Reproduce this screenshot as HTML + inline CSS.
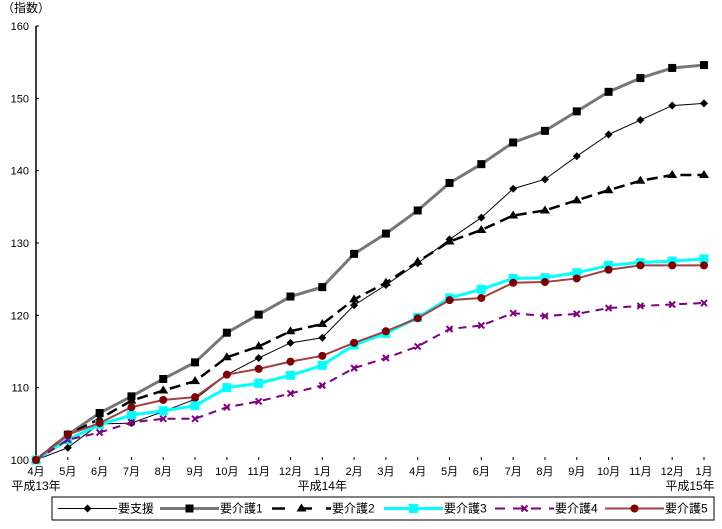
<!DOCTYPE html>
<html><head><meta charset="utf-8"><style>
body{margin:0;background:#fff;}
svg text{font-family:"Liberation Sans","Noto Sans CJK JP",sans-serif;}
</style></head><body>
<svg width="722" height="524" viewBox="0 0 722 524" xmlns="http://www.w3.org/2000/svg">
<g id="axes"></g><g id="series"></g><g id="legend"></g>
</svg>
<script>
const months=["4月","5月","6月","7月","8月","9月","10月","11月","12月","1月","2月","3月","4月","5月","6月","7月","8月","9月","10月","11月","12月","1月"];
const yTicks=[100,110,120,130,140,150,160];
const yearLabels=[["平成13年",0],["平成14年",9],["平成15年",21]];
const s0=[100,101.7,105.0,105.1,106.7,108.4,111.8,114.1,116.2,116.9,121.4,124.2,127.2,130.5,133.5,137.5,138.8,142,145,147,149,149.3];
const s1=[100,103.5,106.5,108.8,111.2,113.5,117.6,120.1,122.6,123.9,128.5,131.3,134.5,138.3,140.9,143.9,145.5,148.2,150.9,152.8,154.2,154.6];
const s2=[100,103.5,105.7,108.2,109.6,110.9,114.2,115.7,117.8,118.8,122.2,124.5,127.4,130.2,131.8,133.8,134.5,135.9,137.3,138.6,139.4,139.4];
const s3=[100,102.8,104.9,106.2,106.8,107.5,110.0,110.6,111.7,113.1,115.9,117.5,119.7,122.4,123.6,125.1,125.2,125.9,126.9,127.3,127.5,127.8];
const s4=[100,102.8,103.8,105.2,105.7,105.7,107.3,108.1,109.2,110.3,112.7,114.1,115.7,118.1,118.6,120.3,119.9,120.2,121.0,121.3,121.5,121.7];
const s5=[100,103.5,105.1,107.3,108.3,108.7,111.8,112.6,113.6,114.4,116.2,117.8,119.6,122.1,122.4,124.5,124.6,125.1,126.3,126.9,126.9,126.9];
const names=["要支援","要介護1","要介護2","要介護3","要介護4","要介護5"];
const NS="http://www.w3.org/2000/svg";
const X0=36,X1=704,Y0=460,Y1=26;
const xs=i=>X0+(X1-X0)*i/(months.length-1);
const ys=v=>Y0-(v-100)/(160-100)*(Y0-Y1);
function mk(tag,at,parent){const e=document.createElementNS(NS,tag);for(const k in at)e.setAttribute(k,at[k]);parent.appendChild(e);return e;}
const ax=document.getElementById('axes');
let e=mk('line',{x1:X0,y1:Y1,x2:X0,y2:Y0,stroke:'#000','stroke-width':1.5},ax);


yTicks.forEach(v=>{
 mk('line',{x1:X0,x2:X0+3,y1:ys(v),y2:ys(v),stroke:'#000'},ax);
 const t=mk('text',{x:29,y:ys(v)+4,'text-anchor':'end','font-size':11},ax);t.textContent=v;
 
 
});
months.forEach((m,i)=>{
 mk('line',{x1:xs(i),x2:xs(i),y1:Y0,y2:Y0-3,stroke:'#000'},ax);
 const t=mk('text',{x:xs(i),y:475,'text-anchor':'middle','font-size':11},ax);t.textContent=m;
 
 
});
yearLabels.forEach(([l,i])=>{
 const t=mk('text',{x:Math.min(xs(i),690),y:490,'text-anchor':'middle','font-size':12},ax);t.textContent=l;
 
 
});
const yt=mk('text',{x:2,y:12,'font-size':12},ax);yt.textContent="（指数）";


const styles=[
 {c:'#000',w:1,d:'',m:'diamond',mc:'#000'},
 {c:'#777',w:3,d:'',m:'square',mc:'#000'},
 {c:'#000',w:2.5,d:'11,6',m:'tri',mc:'#000'},
 {c:'#00ffff',w:3,d:'',m:'bigsquare',mc:'#00ffff'},
 {c:'#800080',w:2,d:'8,6',m:'x',mc:'#800080'},
 {c:'#a04040',w:2,d:'',m:'circle',mc:'#800000'}];
function marker(g,type,x,y,col){
 if(type==='diamond')mk('polygon',{points:`${x},${y-4} ${x+4},${y} ${x},${y+4} ${x-4},${y}`,fill:col},g);
 else if(type==='square')mk('rect',{x:x-4,y:y-4,width:8,height:8,fill:col},g);
 else if(type==='bigsquare')mk('rect',{x:x-4.5,y:y-4.5,width:9,height:9,fill:col},g);
 else if(type==='tri')mk('polygon',{points:`${x},${y-5} ${x+5},${y+3} ${x-5},${y+3}`,fill:col},g);
 else if(type==='x'){mk('path',{d:`M${x-3},${y-3}L${x+3},${y+3}M${x+3},${y-3}L${x-3},${y+3}`,stroke:col,'stroke-width':2},g);}
 else mk('circle',{cx:x,cy:y,r:4,fill:col},g);
}
const sg=document.getElementById('series');
[s0,s1,s2,s3,s4,s5].forEach((s,k)=>{
 const st=styles[k];
 const g=mk('g',{},sg);
 
 
 mk('polyline',{points:s.map((v,i)=>xs(i)+','+ys(v)).join(' '),fill:'none',stroke:st.c,'stroke-width':st.w,'stroke-dasharray':st.d},g);
 s.forEach((v,i)=>marker(g,st.m,xs(i),ys(v),st.mc));
});
const lg=document.getElementById('legend');
const box=mk('rect',{x:52,y:497,width:662,height:23,fill:'#fff',stroke:'#000'},lg);


const bases=[58,160,272,384,495,605];
names.forEach((n,k)=>{
 const st=styles[k];const y=508.5;const base=bases[k];
 const len=59;
 const g=mk('g',{},lg);
 
 
 mk('line',{x1:base,x2:base+len,y1:y,y2:y,stroke:st.c,'stroke-width':st.w,'stroke-dasharray':k===2?'13,14':(k===4?'10,8':st.d)},g);
 marker(g,st.m,base+len/2,y,st.mc);
 const t=mk('text',{x:base+len+1,y:y+4,'font-size':12},g);t.textContent=n;
});
</script>
</body></html>
